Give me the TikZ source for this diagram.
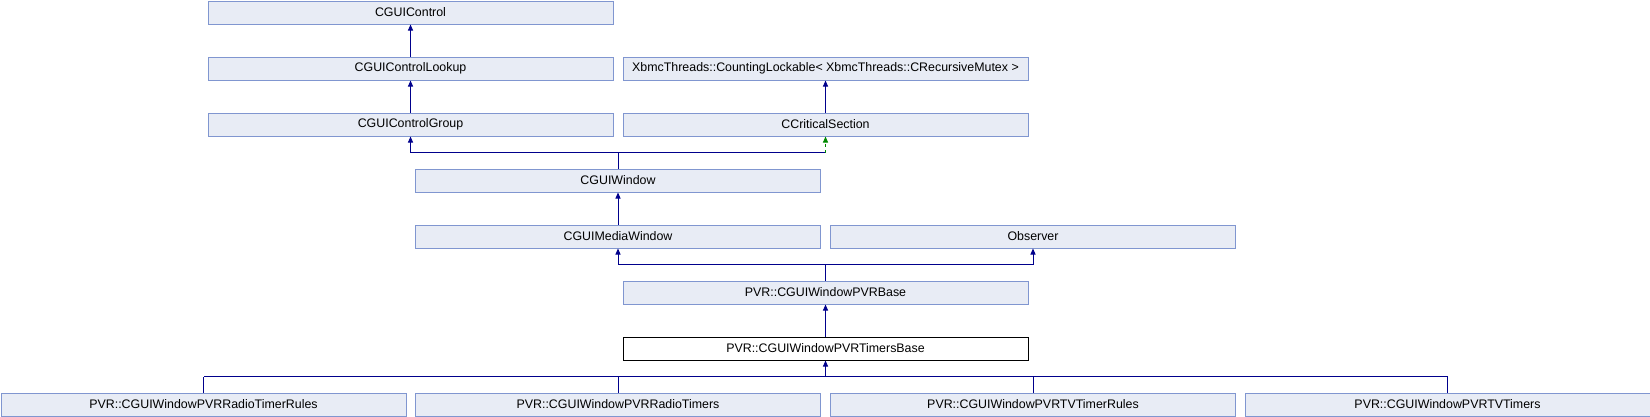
\documentclass[tikz,border=0pt]{standalone}
\usepackage{fontspec}
\setmainfont{Liberation Sans}
\usetikzlibrary{arrows.meta}
\definecolor{boxfill}{RGB}{232,236,245}
\definecolor{boxline}{RGB}{128,150,208}
\definecolor{inhblue}{RGB}{0,0,140}
\definecolor{inhgreen}{RGB}{0,136,0}
\tikzset{
  cls/.style={draw=boxline,fill=boxfill,line width=1pt,anchor=north west,
    minimum width=405pt,minimum height=23pt,inner sep=0pt,
    font=\fontsize{12.4}{14}\selectfont},
  cur/.style={cls,draw=black,fill=white},
  bar/.style={draw=inhblue,line width=1pt},
  edge/.style={bar,-{Triangle[width=5pt,length=6pt]}},
  prot/.style={draw=inhgreen,line width=1pt,dashed,-{Triangle[width=5pt,length=6pt]}}
}
\begin{document}
\begin{tikzpicture}[x=1pt,y=-1pt]
      \useasboundingbox (0,0) rectangle (1650,416);
      \path
        (207.5,0.5) node[cls] (ctrl){CGUIControl}
        (207.5,56.5) node[cls] (lookup){CGUIControlLookup}
        (622.5,56.5) node[cls] (lockable){XbmcThreads::CountingLockable< XbmcThreads::CRecursiveMutex >}
        (207.5,112.5) node[cls] (group){CGUIControlGroup}
        (622.5,112.5) node[cls] (crit){CCriticalSection}
        (415,168.5) node[cls] (window){CGUIWindow}
        (415,224.5) node[cls] (media){CGUIMediaWindow}
        (830,224.5) node[cls] (observer){Observer}
        (622.5,280.5) node[cls] (pvrbase){PVR::CGUIWindowPVRBase}
        (622.5,336.5) node[cur] (timersbase){PVR::CGUIWindowPVRTimersBase}
        (0.5,392.5) node[cls] (radiorules){PVR::CGUIWindowPVRRadioTimerRules}
        (415,392.5) node[cls] (radiotimers){PVR::CGUIWindowPVRRadioTimers}
        (830,392.5) node[cls] (tvrules){PVR::CGUIWindowPVRTVTimerRules}
        (1244.5,392.5) node[cls] (tvtimers){PVR::CGUIWindowPVRTVTimers};
      \path (window.north) ++(0,-16) coordinate (j1);
      \path (pvrbase.north) ++(0,-16) coordinate (j2);
      \path (radiorules.north) ++(0,-16) coordinate (j3);
      \coordinate (c1) at (crit.south |- j1);
      \begin{scope}
        \draw[edge] (lookup) to (ctrl);
        \draw[edge] (group) to (lookup);
        \draw[edge] (crit) to (lockable);
        \draw[bar] (window.north) -- (j1);
        \draw[edge] (j1) -| (group.south);
        \draw[bar] (j1) -- (c1);
        \draw[prot] (c1) -- (crit.south);
        \draw[edge] (media) to (window);
        \draw[bar] (pvrbase.north) -- (j2);
        \draw[edge] (j2) -| (media.south);
        \draw[edge] (j2) -| (observer.south);
        \draw[edge] (timersbase) to (pvrbase);
        \draw[bar] (radiorules.north) -- (j3);
        \draw[bar] (radiotimers.north) |- (j3);
        \draw[bar] (tvrules.north) |- (j3);
        \draw[bar] (tvtimers.north) |- (j3);
        \draw[edge] (j3 -| timersbase.south) -- (timersbase.south);
      \end{scope}
    \end{tikzpicture}
\end{document}
